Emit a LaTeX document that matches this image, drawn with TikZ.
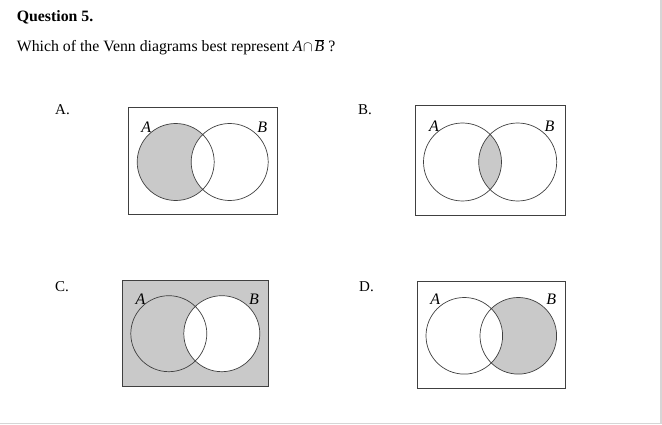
\documentclass[tikz,border=0pt]{standalone}
\usepackage{fontspec}
\setmainfont{Liberation Serif}
\begin{document}
\begin{tikzpicture}[x=1pt,y=-1pt,
  venn/.style={draw=black!75, line width=0.7pt},
  shadefill/.style={fill=black!21},
  frame/.style={draw=black!75, line width=0.7pt},
  lbl/.style={font=\fontsize{16}{16}\selectfont\itshape, anchor=base west, inner sep=0pt},
  opt/.style={font=\fontsize{15}{15}\selectfont, anchor=base west, inner sep=0pt},
  txt/.style={font=\fontsize{15.8}{18}\selectfont, anchor=base west, inner sep=0pt}]
\useasboundingbox (0,0) rectangle (662,425);
\draw[black!16, line width=1.5pt] (0,423.3) -- (661,423.3) -- (661,0);

\node[txt, font=\fontsize{15.8}{17}\selectfont\bfseries] (title) at (16.7,21.7) {Question 5.};
\node[txt] (question) at (16.7,52) {Which of the Venn diagrams best represent \textit{A}\kern0.5pt$\cap$\kern2pt$\overline{\mbox{\textit{B}}}$\kern4pt?};

\node[opt] (optA) at (55,115) {A.};
\node[opt] (optB) at (358,115) {B.};
\node[opt] (optC) at (55,291) {C.};
\node[opt] (optD) at (359,291) {D.};

% Diagram A: A minus B
\fill[shadefill] (175.7,162) circle (38.5pt);
\fill[white] (229.7,162) circle (38.5pt);
\draw[frame] (128.3,107.3) rectangle (277.3,214.3);
\draw[venn] (175.7,162) circle (38.5pt) (229.7,162) circle (38.5pt);
\node[lbl] (aA) at (141.2,132.3) {A};
\node[lbl] (aB) at (257.2,132.3) {B};

% Diagram B: intersection
\begin{scope}
  \clip (462.5,162) circle (39pt);
  \fill[shadefill] (517.7,162) circle (39pt);
\end{scope}
\draw[frame] (415,105.7) rectangle (565.7,215);
\draw[venn] (462.5,162) circle (39pt) (517.7,162) circle (39pt);
\node[lbl] (bA) at (428.8,131.7) {A};
\node[lbl] (bB) at (544.5,131.7) {B};

% Diagram C: complement of B
\fill[shadefill] (122.7,280) rectangle (268.3,386.7);
\fill[white] (221.8,333.7) circle (38pt);
\draw[frame] (122.7,280) rectangle (268.3,386.7);
\draw[venn] (168.8,333.7) circle (38pt) (221.8,333.7) circle (38pt);
\node[lbl] (cA) at (135.5,304) {A};
\node[lbl] (cB) at (248.8,304) {B};

% Diagram D: B minus A
\fill[shadefill] (518.3,335.8) circle (38.3pt);
\fill[white] (464.3,335.8) circle (38.3pt);
\draw[frame] (417.3,281.7) rectangle (565.7,388.3);
\draw[venn] (464.3,335.8) circle (38.3pt) (518.3,335.8) circle (38.3pt);
\node[lbl] (dA) at (430.2,305) {A};
\node[lbl] (dB) at (546.2,305) {B};
\end{tikzpicture}
\end{document}
